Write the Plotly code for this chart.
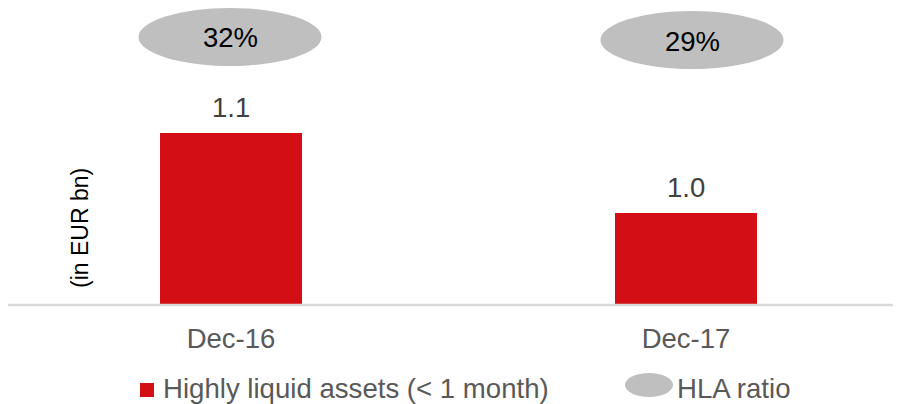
import plotly.graph_objects as go

categories = ["Dec-16", "Dec-17"]
hla_assets = [1.1, 1.0]          # EUR bn
hla_ratio = ["32%", "29%"]
series_name = "Highly liquid assets (< 1 month)"
ratio_name = "HLA ratio"
y_title = "(in EUR bn)"

# The page body has an 8px margin, so the figure is drawn 8px in from the window.
OFF = 8
W, H = 901 - OFF, 404 - OFF
PLOT_BOTTOM_REF = 305                 # baseline in window px
PH = PLOT_BOTTOM_REF - OFF            # plot area height in figure px
FONT = "Liberation Sans, Arial, sans-serif"
RED = "#D40E15"
GREY = "#BFBFBF"
X0_REF, STEP = 231, 455               # window px of first category, px per category
PX_PER_UNIT = 800
Y_MIN = 0.885

def fy(p):  # window pixel y -> paper y
    return 1 - (p - OFF) / PH

def fx(p):  # window pixel x -> paper x
    return (p - OFF) / W

def ux(p):  # window pixel x -> x data units
    return (p - X0_REF) / STEP

fig = go.Figure()
fig.add_trace(go.Bar(
    x=list(range(len(categories))), y=hla_assets,
    marker=dict(color=RED, line=dict(width=0)),
    width=0.314,
    showlegend=False,
    hoverinfo="skip",
))

shapes = []
annotations = []
for i, v in enumerate(hla_assets):
    annotations.append(dict(x=i, y=v, xref="x", yref="y", text=f"{v:.1f}",
                            xanchor="center", yanchor="middle", yshift=26, showarrow=False,
                            font=dict(family=FONT, size=27.5, color="#404040")))

ellipse_dx_px = [-1, 6]
ellipse_cy_px = [37, 40]
for i, r in enumerate(hla_ratio):
    cx = i + ellipse_dx_px[i] / STEP
    cy = ellipse_cy_px[i]
    shapes.append(dict(type="circle", xref="x", yref="paper",
                       x0=cx - 91.5 / STEP, x1=cx + 91.5 / STEP,
                       y0=fy(cy + 29), y1=fy(cy - 29),
                       fillcolor=GREY, line=dict(width=0), layer="above"))
    annotations.append(dict(x=cx, y=fy(cy + 1), xref="x", yref="paper", text=r,
                            xanchor="center", yanchor="middle", showarrow=False,
                            font=dict(family=FONT, size=27.5, color="#000000")))

# y-axis title
annotations.append(dict(x=fx(80), y=fy(228), xref="paper", yref="paper", text=y_title,
                        textangle=-90, xanchor="center", yanchor="middle", showarrow=False,
                        font=dict(family=FONT, size=23, color="#000000")))

# legend
shapes.append(dict(type="rect", xref="paper", yref="paper",
                   x0=fx(140), x1=fx(154), y0=fy(397), y1=fy(383),
                   fillcolor=RED, line=dict(width=0)))
annotations.append(dict(x=fx(161), y=fy(388), xref="paper", yref="paper", text=series_name,
                        xanchor="left", yanchor="middle", showarrow=False,
                        font=dict(family=FONT, size=27.6, color="#595959")))
shapes.append(dict(type="circle", xref="paper", yref="paper",
                   x0=fx(625), x1=fx(673), y0=fy(397), y1=fy(373),
                   fillcolor=GREY, line=dict(width=0)))
annotations.append(dict(x=fx(675), y=fy(388), xref="paper", yref="paper", text=ratio_name,
                        xanchor="left", yanchor="middle", showarrow=False,
                        font=dict(family=FONT, size=27.6, color="#595959")))

# baseline
shapes.append(dict(type="line", xref="paper", yref="paper", x0=0, x1=1,
                   y0=0, y1=0, line=dict(color="#D9D9D9", width=2.5)))

fig.update_layout(
    width=W, height=H,
    margin=dict(l=0, r=0, t=0, b=H - PH, pad=0),
    paper_bgcolor="white", plot_bgcolor="white",
    shapes=shapes, annotations=annotations,
    xaxis=dict(range=[ux(OFF), ux(901)], tickvals=list(range(len(categories))),
               ticktext=categories, showgrid=False, zeroline=False, showline=False,
               ticks="outside", ticklen=9, tickcolor="rgba(0,0,0,0)",
               tickfont=dict(family=FONT, size=27.5, color="#595959")),
    yaxis=dict(range=[Y_MIN, Y_MIN + PH / PX_PER_UNIT], showgrid=False, zeroline=False,
               showline=False, showticklabels=False, ticks=""),
    bargap=0,
)

fig.write_html("out.html")
